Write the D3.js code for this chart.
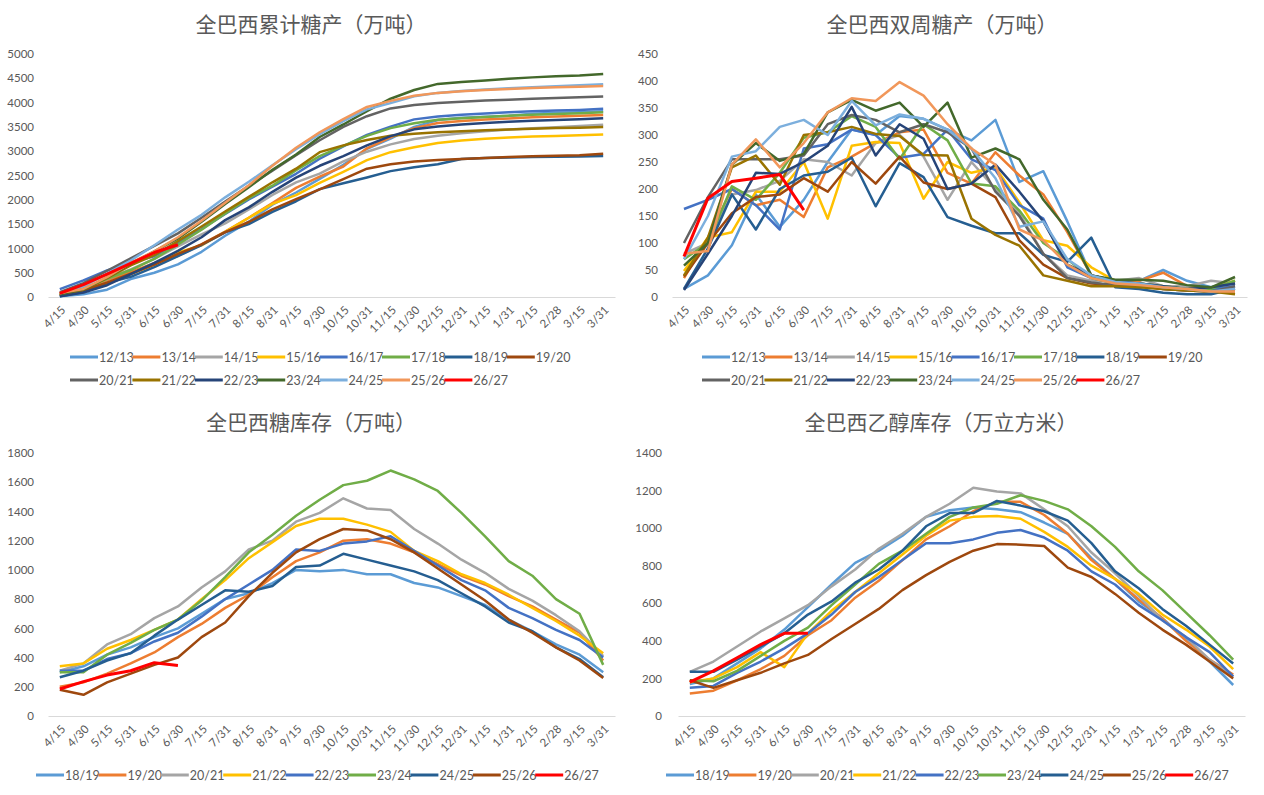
<!DOCTYPE html>
<html><head><meta charset="utf-8">
<script src="https://cdn.jsdelivr.net/npm/d3@7"></script>
<style>body{margin:0;background:#fff}svg{display:block}</style>
</head><body><svg id="c" width="1264" height="795"></svg>
<script>
// ---------- categories ----------
const dates = ['4/15','4/30','5/15','5/31','6/15','6/30','7/15','7/31','8/15','8/31','9/15','9/30','10/15','10/31','11/15','11/30','12/15','12/31','1/15','1/31','2/15','2/28','3/15','3/31'];
const topSeasons = ['12/13','13/14','14/15','15/16','16/17','17/18','18/19','19/20','20/21','21/22','22/23','23/24','24/25','25/26','26/27'];
const botSeasons = ['18/19','19/20','20/21','21/22','22/23','23/24','24/25','25/26','26/27'];
const topColors = ['#5B9BD5','#ED7D31','#A5A5A5','#FFC000','#4472C4','#70AD47','#255E91','#9E480E','#636363','#997300','#264478','#43682B','#7CAFDD','#F1975A','#FF0000'];
const botColors = ['#5B9BD5','#ED7D31','#A5A5A5','#FFC000','#4472C4','#70AD47','#255E91','#9E480E','#FF0000'];
const yTicksCum = [0,500,1000,1500,2000,2500,3000,3500,4000,4500,5000];
const yTicksBi = [0,50,100,150,200,250,300,350,400,450];
const yTicksStock = [0,200,400,600,800,1000,1200,1400,1600,1800];
const yTicksEth = [0,200,400,600,800,1000,1200,1400];

// ---------- 全巴西累计糖产（万吨） ----------
const c1213 = [15,55,150,370,500,670,930,1260,1550,1900,2150,2430,2720,3050,3260,3500,3640,3690,3710,3730,3770,3790,3800,3820];
const c1314 = [35,145,345,515,695,845,1085,1345,1630,1935,2245,2475,2685,3060,3285,3475,3580,3620,3650,3675,3700,3715,3728,3745];
const c1415 = [80,180,370,570,785,1040,1290,1515,1800,2100,2360,2540,2790,2990,3140,3250,3320,3370,3410,3445,3470,3495,3520,3545];
const c1516 = [48,158,278,473,668,918,1063,1343,1630,1915,2097,2347,2577,2817,2980,3080,3170,3220,3255,3280,3300,3315,3330,3345];
const c1617 = [163,343,545,715,840,1115,1400,1710,2010,2270,2535,2845,3100,3335,3505,3655,3715,3750,3775,3800,3820,3835,3850,3875];
const c1718 = [70,170,375,555,785,1080,1385,1720,2035,2290,2610,2900,3110,3315,3475,3575,3645,3680,3705,3730,3750,3765,3780,3800];
const c1819 = [15,100,290,415,615,840,1070,1330,1500,1750,1970,2220,2340,2460,2590,2670,2730,2840,2860,2870,2880,2885,2890,2900];
const c1920 = [38,138,293,478,668,888,1083,1333,1543,1803,2015,2215,2425,2640,2730,2790,2820,2840,2860,2880,2895,2905,2915,2950];
const c2021 = [100,285,540,795,1050,1310,1630,1965,2290,2600,2920,3225,3500,3720,3880,3950,3990,4020,4045,4060,4080,4095,4110,4125];
const c2122 = [40,150,390,650,860,1150,1450,1760,2060,2360,2640,2980,3120,3230,3320,3360,3390,3410,3430,3445,3460,3475,3485,3497];
const c2223 = [13,93,243,473,700,950,1230,1582,1844,2164,2457,2700,2900,3120,3310,3450,3510,3550,3580,3605,3625,3640,3655,3680];
const c2324 = [58,158,403,688,940,1205,1547,1912,2257,2617,2932,3292,3550,3825,4080,4260,4385,4425,4457,4489,4519,4541,4559,4590];
const c2425 = [70,220,480,750,1065,1390,1690,2050,2370,2710,3040,3350,3620,3860,3990,4130,4200,4240,4270,4295,4315,4335,4355,4380];
const c2526 = [80,165,410,700,940,1230,1570,1940,2300,2700,3070,3390,3660,3910,4035,4140,4200,4235,4260,4280,4300,4315,4325,4340];
const c2627 = [75,255,470,690,915,1075];

// ---------- 全巴西双周糖产（万吨） ----------
const b1213 = [15,40,96,190,130,180,250,310,300,335,330,310,290,328,213,233,140,40,30,30,50,30,18,25];
const b1314 = [35,110,200,170,180,148,240,260,285,305,310,230,210,268,225,190,120,40,30,30,45,20,15,15];
const b1415 = [80,100,190,198,215,255,250,225,285,300,260,180,250,200,155,80,40,30,30,35,20,20,30,25];
const b1516 = [48,110,120,195,195,250,145,280,287,285,182,250,230,240,175,105,95,55,30,25,20,15,15,30];
const b1617 = [163,180,200,170,125,275,283,310,300,258,265,310,255,235,170,145,55,35,25,25,20,15,15,20];
const b1718 = [70,100,205,180,230,295,305,335,315,255,320,290,210,205,160,100,70,35,25,25,20,15,15,30];
const b1819 = [15,90,190,125,200,225,232,258,168,248,222,148,132,118,118,78,65,110,18,15,8,5,5,15];
const b1920 = [38,100,155,185,190,220,195,250,210,260,212,200,210,185,105,60,35,25,22,20,15,12,10,10];
const b2021 = [100,185,255,255,255,262,320,337,328,305,320,305,275,195,150,80,35,27,22,22,15,12,10,20];
const b2122 = [40,110,240,262,208,300,305,315,302,298,263,262,145,115,95,40,30,20,20,18,15,12,10,5];
const b2223 = [13,80,150,230,228,250,280,352,262,320,293,200,210,245,195,140,60,40,30,25,20,15,18,25];
const b2324 = [58,100,245,285,252,265,342,365,345,360,315,360,258,275,255,180,125,40,32,32,30,22,18,37];
const b2425 = [70,150,260,270,315,328,300,363,318,338,330,310,275,220,130,140,70,40,28,25,18,15,10,15];
const b2526 = [80,85,245,292,240,285,342,368,363,398,373,320,275,245,125,105,60,35,25,22,18,15,10,10];
const b2627 = [75,183,214,220,227,161];

// ---------- 全巴西糖库存（万吨） ----------
const s1819 = [300,340,420,470,540,600,700,800,840,910,1000,990,1000,970,970,910,880,820,760,660,580,490,420,300];
const s1920 = [200,230,290,360,435,540,630,740,830,950,1060,1120,1200,1210,1180,1120,1040,960,900,820,750,660,570,380];
const s2021 = [310,360,490,560,670,750,880,990,1140,1200,1330,1390,1490,1420,1410,1280,1180,1070,980,870,790,690,580,410];
const s2122 = [340,360,460,520,590,660,800,930,1080,1190,1300,1350,1350,1310,1260,1130,1060,970,910,830,740,650,550,430];
const s2223 = [310,310,390,430,510,570,680,800,900,1000,1140,1130,1180,1195,1230,1130,1030,930,860,740,670,590,520,400];
const s2324 = [300,300,420,500,590,660,790,950,1120,1240,1370,1480,1580,1610,1680,1620,1540,1390,1230,1060,960,800,700,350];
const s2425 = [265,310,380,430,550,660,760,860,850,890,1020,1030,1110,1070,1030,990,930,840,750,640,580,470,390,265];
const s2526 = [180,145,230,290,350,400,540,640,820,980,1120,1210,1280,1270,1210,1120,1010,900,790,660,570,470,380,260];
const s2627 = [185,235,280,310,365,345];

// ---------- 全巴西乙醇库存（万立方米） ----------
const e1819 = [170,200,280,360,460,580,700,815,880,960,1060,1095,1110,1100,1085,1030,970,840,730,610,520,410,290,165];
const e1920 = [120,135,190,250,320,430,510,630,720,830,940,1010,1090,1140,1140,1070,970,830,730,620,520,400,300,220];
const e2021 = [235,290,370,450,520,590,690,780,890,970,1060,1130,1215,1195,1185,1100,1010,870,760,640,510,420,300,210];
const e2122 = [180,200,260,340,260,440,560,660,760,860,960,1040,1060,1065,1050,980,900,800,730,650,540,460,370,250];
const e2223 = [150,160,230,290,360,440,540,660,740,830,920,920,940,975,990,950,880,770,700,590,510,420,340,210];
const e2324 = [190,185,240,320,400,470,590,700,810,880,970,1060,1110,1130,1175,1145,1100,1010,900,770,670,550,430,300];
const e2425 = [235,235,300,370,440,540,610,710,780,880,1010,1080,1080,1145,1120,1090,1040,920,770,680,570,480,380,280];
const e2526 = [190,150,190,230,280,325,410,490,570,670,750,820,880,915,912,905,790,740,650,550,460,380,290,200];
const e2627 = [180,240,310,380,440,440];

const cumSeries = [c1213,c1314,c1415,c1516,c1617,c1718,c1819,c1920,c2021,c2122,c2223,c2324,c2425,c2526,c2627];
const biSeries = [b1213,b1314,b1415,b1516,b1617,b1718,b1819,b1920,b2021,b2122,b2223,b2324,b2425,b2526,b2627];
const stockSeries = [s1819,s1920,s2021,s2122,s2223,s2324,s2425,s2526,s2627];
const ethSeries = [e1819,e1920,e2021,e2122,e2223,e2324,e2425,e2526,e2627];

const svg = d3.select('#c');
const NUMFONT = 'Lato, "Noto Sans", sans-serif';
const TXT = '#595959';

function panel(cfg) {
  const g = svg.append('g');
  const x = d3.scalePoint().domain(dates).range([cfg.ax0, cfg.ax1]).padding(0.5);
  const y = d3.scaleLinear().domain([0, cfg.max]).range([cfg.yb, cfg.yt]);

  g.append('text').attr('x', cfg.tx).attr('y', cfg.ty).attr('text-anchor', 'middle')
    .attr('font-family', '"Noto Sans CJK SC", sans-serif').attr('font-size', 21).attr('fill', TXT)
    .text(cfg.title);

  const ya = d3.axisLeft(y).tickValues(cfg.ticks).tickFormat(d3.format('d')).tickSize(0).tickPadding(0);
  const yg = g.append('g').attr('transform', `translate(${cfg.lx},0)`).call(ya);
  yg.select('.domain').remove();
  yg.selectAll('text').attr('font-family', NUMFONT).attr('font-size', 11.5).attr('fill', TXT);

  const xa = d3.axisBottom(x).tickSize(0).tickSizeOuter(0);
  const xg = g.append('g').attr('transform', `translate(0,${cfg.yb})`).call(xa);
  xg.select('.domain').attr('stroke', '#D9D9D9').attr('stroke-width', 1);
  xg.selectAll('text').attr('font-family', NUMFONT).attr('font-size', 11.5).attr('fill', TXT)
    .attr('text-anchor', 'end').attr('x', 0).attr('y', 0).attr('dy', '0.35em')
    .attr('transform', 'translate(3,11) rotate(-45)');

  const line = d3.line().x((d, i) => x(dates[i])).y(d => y(d));
  cfg.series.forEach((s, k) => {
    g.append('path').datum(s).attr('d', line).attr('fill', 'none')
      .attr('stroke', cfg.colors[k]).attr('stroke-width', k === cfg.series.length - 1 ? 3 : 2.5)
      .attr('stroke-linejoin', 'round');
  });

  cfg.names.forEach((n, k) => {
    const row = Math.floor(k / cfg.perRow), col = k % cfg.perRow;
    const lx = cfg.legX + col * cfg.legStep, ly = cfg.legY + row * 23;
    g.append('line').attr('x1', lx).attr('x2', lx + 28).attr('y1', ly).attr('y2', ly)
      .attr('stroke', cfg.colors[k]).attr('stroke-width', 3);
    g.append('text').attr('x', lx + 29).attr('y', ly + 4.5).attr('font-family', NUMFONT)
      .attr('font-size', 12.5).attr('fill', TXT).text(n);
  });
}

panel({title: '全巴西累计糖产（万吨）', tx: 311, ty: 32, ax0: 48, ax1: 615, yt: 54, yb: 297, max: 5000, ticks: yTicksCum, lx: 34,
  series: cumSeries, colors: topColors, names: topSeasons, perRow: 8, legX: 70, legY: 357, legStep: 62.4});
panel({title: '全巴西双周糖产（万吨）', tx: 942, ty: 32, ax0: 672, ax1: 1247, yt: 54, yb: 297, max: 450, ticks: yTicksBi, lx: 658,
  series: biSeries, colors: topColors, names: topSeasons, perRow: 8, legX: 702, legY: 357, legStep: 62.4});
panel({title: '全巴西糖库存（万吨）', tx: 311, ty: 430, ax0: 48, ax1: 615, yt: 453, yb: 716, max: 1800, ticks: yTicksStock, lx: 34,
  series: stockSeries, colors: botColors, names: botSeasons, perRow: 9, legX: 36, legY: 775, legStep: 62.4});
panel({title: '全巴西乙醇库存（万立方米）', tx: 941, ty: 430, ax0: 678, ax1: 1245, yt: 453, yb: 716, max: 1400, ticks: yTicksEth, lx: 662,
  series: ethSeries, colors: botColors, names: botSeasons, perRow: 9, legX: 666, legY: 775, legStep: 62.4});
</script>
</body></html>
